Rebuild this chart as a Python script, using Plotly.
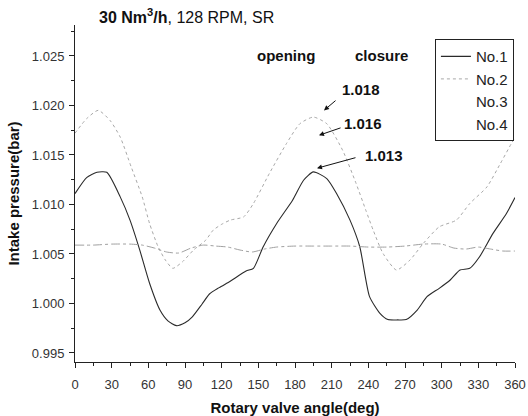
import plotly.graph_objects as go

# ---- data ----
no1_deg = [0, 9.5, 18, 26, 37, 45, 53, 61, 69.5, 76, 83, 90, 96, 104, 110, 118, 127, 140, 146, 154,
           165, 178, 187, 195, 206, 214, 225, 233, 241, 249.5, 256, 264, 271, 280, 288, 298, 307,
           315, 323, 331, 342, 353, 360]
no1_val = [1.0111, 1.01272, 1.01325, 1.01325, 1.01077, 1.00842, 1.00539, 1.00204, 0.99934, 0.99825,
           0.99776, 0.99805, 0.99865, 0.99995, 1.00096, 1.00160, 1.00225, 1.00328, 1.00355, 1.00573,
           1.00808, 1.01043, 1.01245, 1.01329, 1.01262, 1.01111, 1.00842, 1.00573, 1.00069, 0.99901,
           0.99838, 0.99834, 0.99838, 0.99934, 1.00069, 1.00153, 1.00237, 1.00338, 1.00355, 1.00472,
           1.00708, 1.00909, 1.01070]

no2_deg = [0, 9.5, 19, 28.6, 37, 46, 55, 61, 68, 74, 80, 88, 97, 107, 113, 120, 127, 138, 146, 159,
           173, 184, 195, 206, 219, 230, 238, 244, 252, 263, 274, 285, 298, 312, 323, 337, 348, 357, 360]
no2_val = [1.0172, 1.01867, 1.01951, 1.0185, 1.01681, 1.01379, 1.01077, 1.00808, 1.00573, 1.00438,
           1.00355, 1.00422, 1.0054, 1.0064, 1.0074, 1.0080, 1.00842, 1.00875, 1.0101, 1.01313,
           1.01615, 1.01816, 1.01883, 1.01816, 1.01547, 1.01212, 1.00940, 1.0074, 1.00506, 1.00338,
           1.00438, 1.00607, 1.00774, 1.00842, 1.0101, 1.01177, 1.01413, 1.01615, 1.0168]

no3_deg = [0, 15, 30, 45, 55, 65, 75, 85, 95, 105, 115, 125, 135, 145, 155, 165, 180, 195, 210, 225,
           240, 255, 270, 285, 300, 310, 320, 330, 340, 350, 360]
no3_val = [1.0059, 1.0059, 1.0060, 1.0060, 1.0059, 1.0056, 1.0052, 1.0051, 1.0056, 1.0059, 1.0058,
           1.0057, 1.0054, 1.0052, 1.0055, 1.0057, 1.0058, 1.0058, 1.0058, 1.0058, 1.0057, 1.0057,
           1.0058, 1.0060, 1.0060, 1.0056, 1.0055, 1.0057, 1.0055, 1.0053, 1.0053]

x_ticks = [0, 30, 60, 90, 120, 150, 180, 210, 240, 270, 300, 330, 360]
y_ticks = [0.995, 1.000, 1.005, 1.010, 1.015, 1.020, 1.025]
y_ticklabels = ["0.995", "1.000", "1.005", "1.010", "1.015", "1.020", "1.025"]

FONT = "Liberation Sans, Arial, sans-serif"

fig = go.Figure()
fig.add_trace(go.Scatter(x=no1_deg, y=no1_val, mode="lines", name="No.1",
                         line=dict(color="#2a2a2a", width=1.1, shape="spline", smoothing=0.6)))
fig.add_trace(go.Scatter(x=no2_deg, y=no2_val, mode="lines", name="No.2",
                         line=dict(color="#a8a8a8", width=1, dash="dot", shape="spline", smoothing=0.6)))
fig.add_trace(go.Scatter(x=no3_deg, y=no3_val, mode="lines", name="No.3", showlegend=False,
                         legendgroup="n3",
                         line=dict(color="#a0a0a0", width=1, dash="dashdot", shape="spline", smoothing=0.6)))
fig.add_trace(go.Scatter(x=[None], y=[None], mode="lines", name="No.3", legendgroup="n3",
                         line=dict(color="rgba(0,0,0,0)", width=1)))
fig.add_trace(go.Scatter(x=[None], y=[None], mode="lines", name="No.4",
                         line=dict(color="rgba(0,0,0,0)", width=1)))

axis_common = dict(showgrid=False, zeroline=False, showline=True, linecolor="#222", linewidth=1,
                   ticks="outside", ticklen=5, tickcolor="#222", tickwidth=1,
                   tickfont=dict(family=FONT, size=13, color="#333"),
                   mirror=False, automargin=False)

fig.update_xaxes(range=[0, 360], tickvals=x_ticks, ticklabelstandoff=5,
                 minor=dict(ticks="outside", ticklen=3, dtick=15, tick0=0, tickcolor="#222"),
                 title=dict(text="<b>Rotary valve angle(deg)</b>", font=dict(family=FONT, size=15, color="#111"),
                            standoff=19),
                 **axis_common)
fig.update_yaxes(range=[0.99409, 1.02813], tickvals=y_ticks, ticktext=y_ticklabels, ticklabelstandoff=2,
                 minor=dict(ticks="outside", ticklen=3, dtick=0.0025, tick0=0.995, tickcolor="#222"),
                 title=dict(text="<b>Intake pressure(bar)</b>", font=dict(family=FONT, size=15, color="#111"),
                            standoff=8),
                 **axis_common)

ann_font = dict(family=FONT, size=15, color="#111")
annotations = [
    dict(x=0.05, y=1.0, xref="paper", yref="paper", yanchor="bottom", xanchor="left", yshift=-3,
         text="<b>30 Nm<sup>3</sup>/h</b>, 128 RPM, SR", showarrow=False,
         font=dict(family=FONT, size=16, color="#111")),
    dict(x=172.6, y=1.02505, text="<b>opening</b>", showarrow=False, font=ann_font),
    dict(x=250.4, y=1.02505, text="<b>closure</b>", showarrow=False, font=ann_font),
    dict(x=234, y=1.02163, text="<b>1.018</b>", showarrow=False, font=ann_font),
    dict(x=235.6, y=1.01819, text="<b>1.016</b>", showarrow=False, font=ann_font),
    dict(x=252.8, y=1.01497, text="<b>1.013</b>", showarrow=False, font=ann_font),
]
arrows = [
    (203.7, 1.0195, 214.4, 1.02062),
    (199.6, 1.01699, 218.5, 1.01779),
    (198.0, 1.01366, 230.7, 1.01477),
]
for hx, hy, tx, ty in arrows:
    annotations.append(dict(x=hx, y=hy, ax=tx, ay=ty, axref="x", ayref="y", text="",
                            showarrow=True, arrowhead=2, arrowsize=1, arrowwidth=1, arrowcolor="#111"))

fig.update_layout(
    width=528, height=416,
    margin=dict(l=75, r=13, t=25, b=54, autoexpand=False),
    paper_bgcolor="white", plot_bgcolor="white",
    font=dict(family=FONT, color="#111"),
    annotations=annotations,
    legend=dict(x=0.818, y=0.958, xanchor="left", yanchor="top",
                bordercolor="#222", borderwidth=1, bgcolor="white",
                font=dict(family=FONT, size=15, color="#222"),
                itemwidth=30, tracegroupgap=0),
)

fig.write_html("out.html")
